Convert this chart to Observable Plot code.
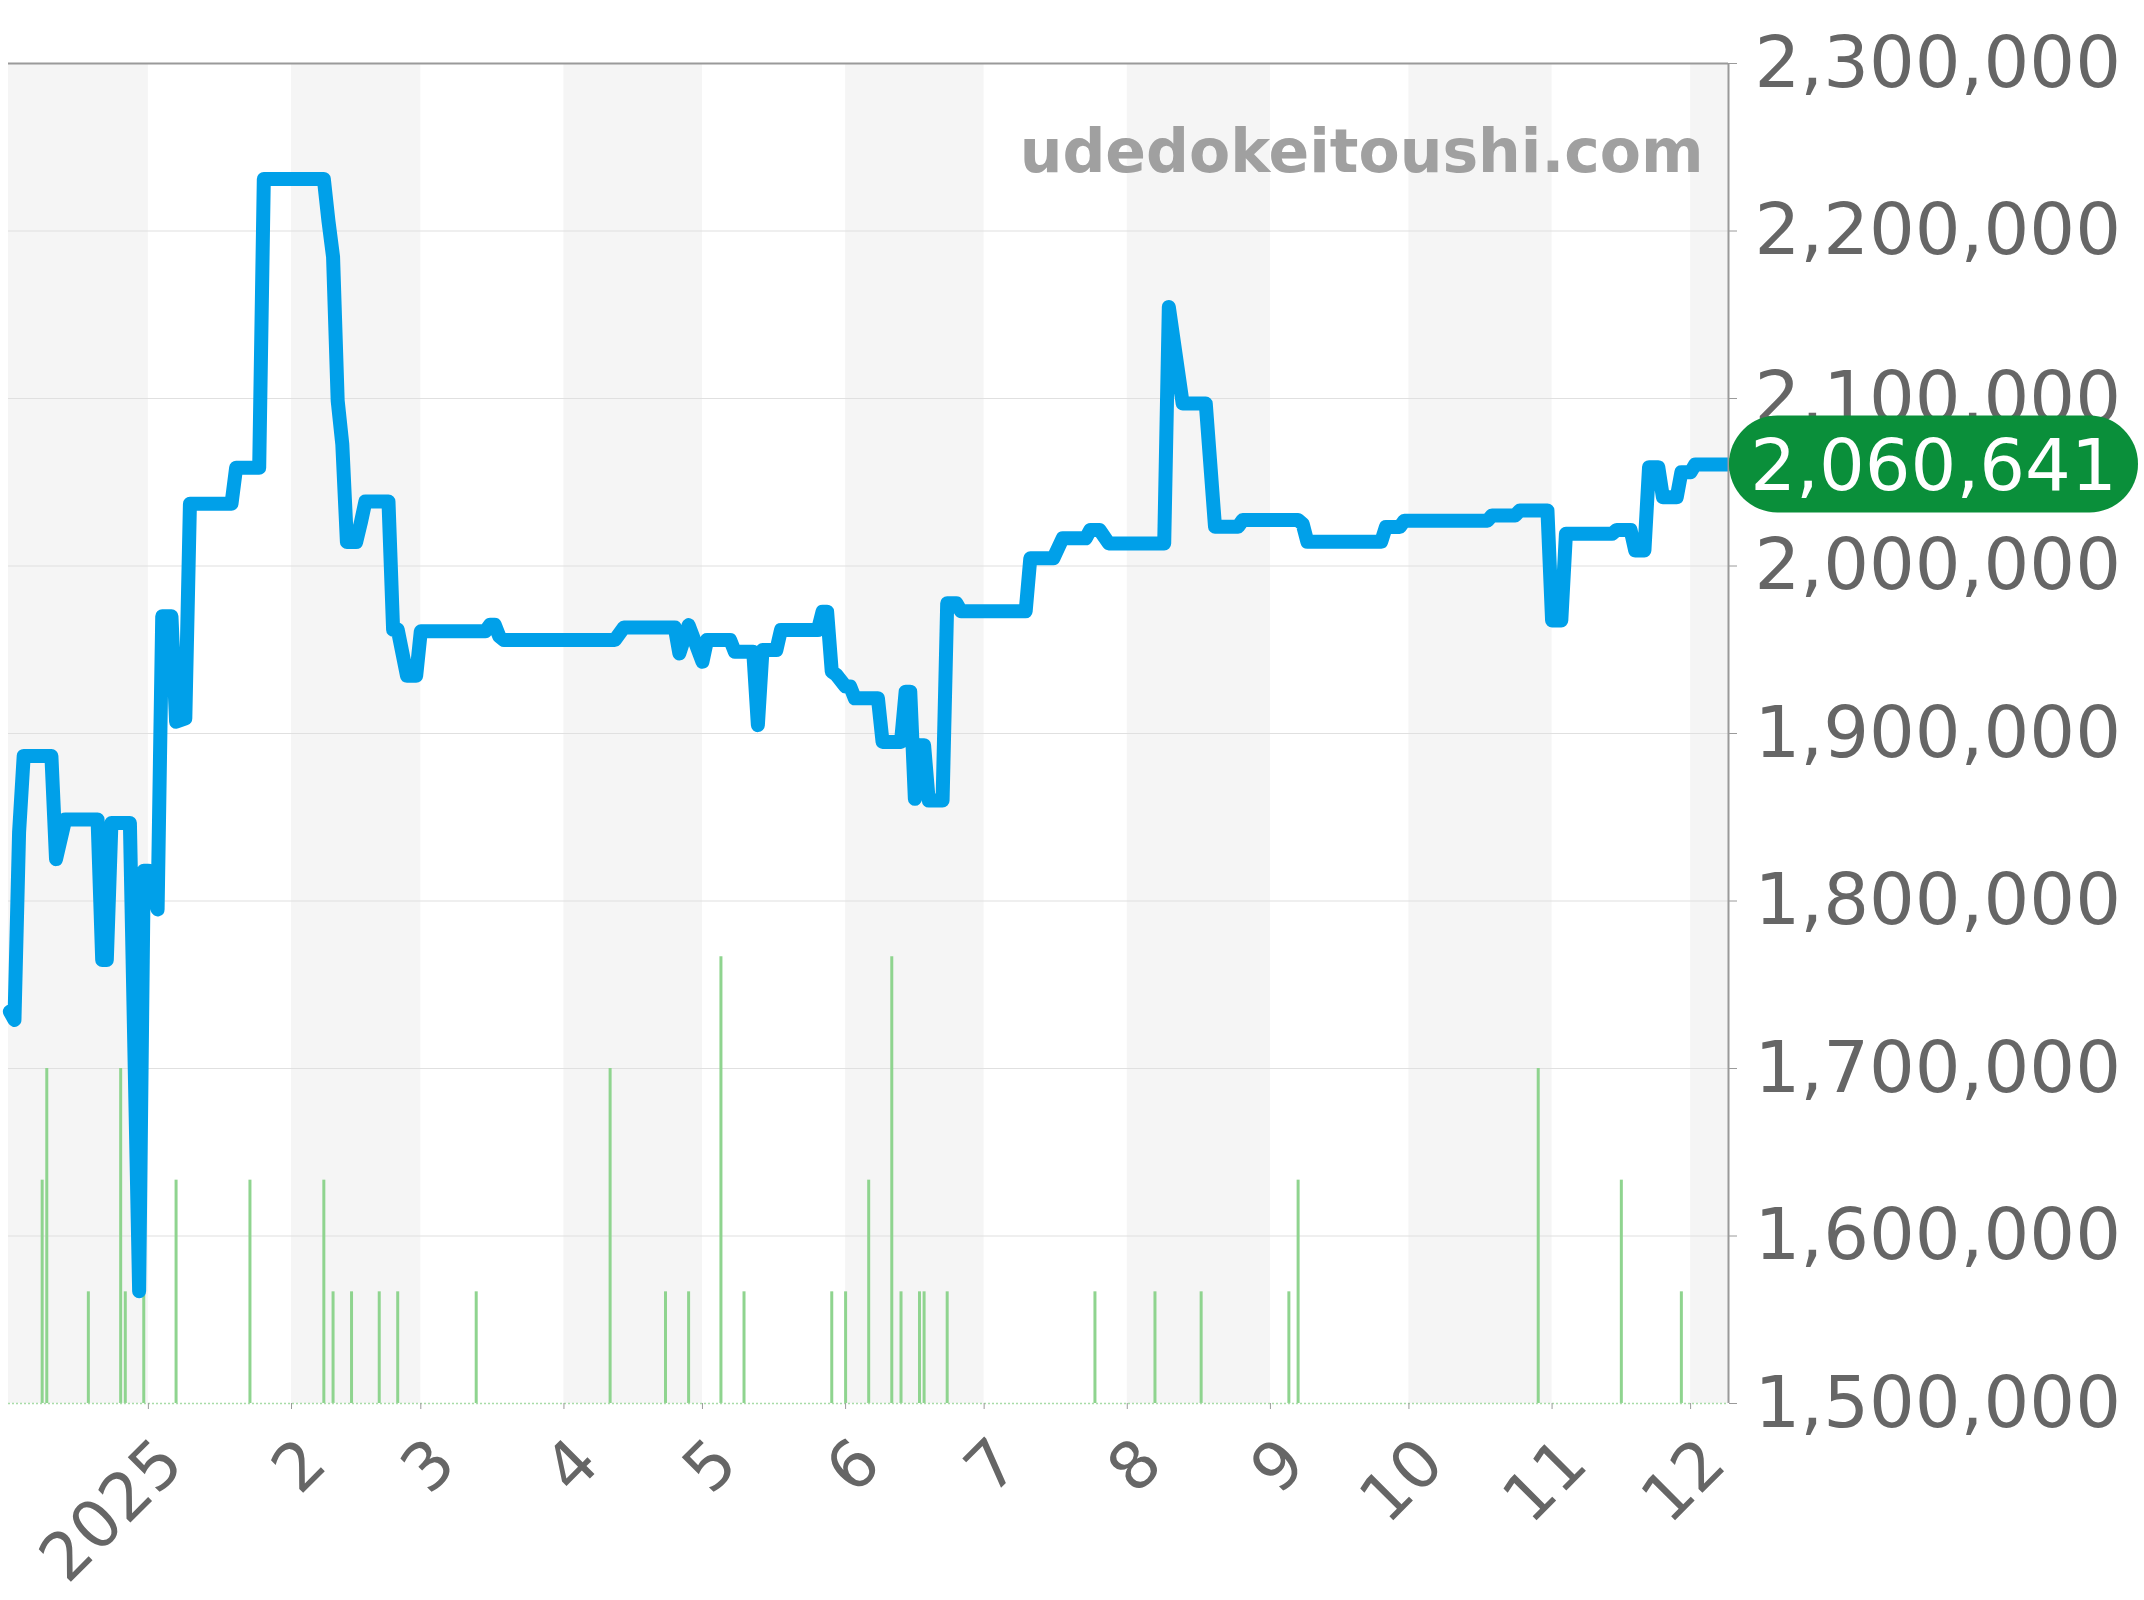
<!DOCTYPE html>
<html><head><meta charset="utf-8">
<script src="https://cdn.jsdelivr.net/npm/d3@7"></script>
<script src="https://cdn.jsdelivr.net/npm/@observablehq/plot@0.6"></script>
<style>
html,body{margin:0;padding:0;background:#fff;}
#chart svg{display:block;}
</style></head><body><div id="chart"></div>
<script>
// ---- data ----
const priceDates = [
 "2024-12-02","2024-12-03","2024-12-04","2024-12-05","2024-12-11","2024-12-12","2024-12-14","2024-12-21",
 "2024-12-22","2024-12-23","2024-12-24","2024-12-28","2024-12-30","2024-12-31","2025-01-01","2025-01-03",
 "2025-01-04","2025-01-06","2025-01-07","2025-01-09","2025-01-10","2025-01-19","2025-01-20","2025-01-25",
 "2025-01-26","2025-02-08","2025-02-09","2025-02-10","2025-02-11","2025-02-12","2025-02-13","2025-02-15",
 "2025-02-16","2025-02-17","2025-02-22","2025-02-23","2025-02-24","2025-02-26","2025-02-28","2025-03-01",
 "2025-03-15","2025-03-16","2025-03-17","2025-03-18","2025-03-19","2025-04-12","2025-04-14","2025-04-25",
 "2025-04-26","2025-04-28","2025-05-01","2025-05-02","2025-05-07","2025-05-08","2025-05-12","2025-05-13",
 "2025-05-14","2025-05-17","2025-05-18","2025-05-26","2025-05-27","2025-05-28","2025-05-29","2025-05-30",
 "2025-06-01","2025-06-02","2025-06-03","2025-06-08","2025-06-09","2025-06-13","2025-06-14","2025-06-15",
 "2025-06-16","2025-06-17","2025-06-18","2025-06-19","2025-06-22","2025-06-23","2025-06-25","2025-06-26",
 "2025-07-10","2025-07-11","2025-07-16","2025-07-18","2025-07-23","2025-07-24","2025-07-26","2025-07-28",
 "2025-08-09","2025-08-10","2025-08-13","2025-08-18","2025-08-20","2025-08-25","2025-08-26","2025-09-07",
 "2025-09-08","2025-09-09","2025-09-25","2025-09-26","2025-09-29","2025-09-30","2025-10-18","2025-10-19",
 "2025-10-24","2025-10-25","2025-10-31","2025-11-01","2025-11-03","2025-11-04","2025-11-14","2025-11-15",
 "2025-11-18","2025-11-19","2025-11-21","2025-11-22","2025-11-24","2025-11-25","2025-11-28","2025-11-29",
 "2025-12-01","2025-12-02","2025-12-09"
];
const prices = [
 1734000,1729000,1841000,1886600,1886600,1825000,1848700,1848700,
 1764800,1764800,1846600,1846600,1567000,1818000,1818000,1795000,
 1970000,1970000,1907000,1909000,2037100,2037100,2058600,2058600,
 2231000,2231000,2206000,2184500,2098700,2072700,2014300,2014300,
 2025700,2038500,2038500,1962000,1962000,1934500,1934500,1961000,
 1961000,1965000,1965000,1958000,1955800,1955800,1963300,1963300,
 1947800,1964700,1942800,1955800,1955800,1948800,1948800,1905000,
 1949800,1949800,1961800,1961800,1972700,1972700,1937000,1935000,
 1928000,1928000,1921000,1921000,1895000,1895000,1925000,1925000,
 1861000,1893000,1893000,1860000,1860000,1977700,1977700,1973000,
 1973000,2004600,2004600,2016500,2016500,2021500,2021500,2013500,
 2013500,2154700,2097000,2097000,2023500,2023500,2027400,2027400,
 2025000,2014500,2014500,2023300,2023300,2027000,2027000,2030200,
 2030200,2033100,2033100,1967500,1967500,2019200,2019200,2021500,
 2021500,2009300,2009300,2059000,2059000,2041100,2041100,2056000,
 2056000,2060641,2060641
];
const volumeDates = [
 "2024-12-09","2024-12-10","2024-12-19","2024-12-26","2024-12-27","2024-12-31","2025-01-07","2025-01-23",
 "2025-02-08","2025-02-10","2025-02-14","2025-02-20","2025-02-24","2025-03-13","2025-04-11","2025-04-23",
 "2025-04-28","2025-05-05","2025-05-10","2025-05-29","2025-06-01","2025-06-06","2025-06-11","2025-06-13",
 "2025-06-17","2025-06-18","2025-06-23","2025-07-25","2025-08-07","2025-08-17","2025-09-05","2025-09-07",
 "2025-10-29","2025-11-16","2025-11-29"
];
const volumeCounts = [
 2,3,1,3,1,1,2,2,
 2,1,1,1,1,1,3,1,
 1,4,1,1,1,2,4,1,
 1,1,1,1,1,1,1,2,
 3,2,1
];
const monthTickDates = ["2025-01-01","2025-02-01","2025-03-01","2025-04-01","2025-05-01","2025-06-01",
 "2025-07-01","2025-08-01","2025-09-01","2025-10-01","2025-11-01","2025-12-01"];
const monthTickLabels = ["2025","2","3","4","5","6","7","8","9","10","11","12"];
const shadeStarts = ["2024-12-01T17:00:00Z","2025-02-01","2025-04-01","2025-06-01","2025-08-01","2025-10-01","2025-12-01"];
const shadeEnds   = ["2025-01-01","2025-03-01","2025-05-01","2025-07-01","2025-09-01","2025-11-01","2025-12-09T05:00:00Z"];
const yTicks = [1500000,1600000,1700000,1800000,1900000,2000000,2100000,2200000,2300000];
const lastPrice = 2060641;
const siteName = "udedokeitoushi.com";
const xDomain = ["2024-12-01T17:00:00Z","2025-12-09T05:00:00Z"];
const volumeMax = 12; // volume units spanning the full plot height

// ---- tables built from the arrays ----
const price = priceDates.map((d,i)=>({date:new Date(d), price:prices[i]}));
const vol = volumeDates.map((d,i)=>({date:new Date(d), count:volumeCounts[i]}));
const months = monthTickDates.map((d,i)=>({date:new Date(d), label:monthTickLabels[i]}));
const shade = shadeStarts.map((d,i)=>({s:new Date(d), e:new Date(shadeEnds[i])}));
const x0 = new Date(xDomain[0]), x1 = new Date(xDomain[1]);
const yMin = yTicks[0], yMax = yTicks[yTicks.length-1];
const volUnit = (yMax - yMin) / volumeMax;
const fmt = d3.format(",");

const chart = Plot.plot({
  width: 2144, height: 1600,
  marginTop: 63, marginBottom: 197, marginLeft: 8, marginRight: 416,
  x: {type: "utc", domain: [x0, x1]},
  y: {domain: [yMin, yMax]},
  style: {fontFamily: "'DejaVu Sans', sans-serif", background: "white", overflow: "visible"},
  marks: [
    Plot.rect(shade, {x1: "s", x2: "e", fill: "#f5f5f5"}),
    Plot.ruleY(yTicks.slice(1, -1), {stroke: "#e0e0e0", strokeWidth: 1.2}),
    Plot.ruleX(vol, {x: "date", y1: yMin, y2: d => yMin + d.count * volUnit, stroke: "#8fd48f", strokeWidth: 3}),
    Plot.ruleY([yMin], {stroke: "#a8dca8", strokeWidth: 1.5, strokeDasharray: "2,2"}),
    Plot.line(price, {x: "date", y: "price", stroke: "#00a0e9", strokeWidth: 14, strokeLinejoin: "round", strokeLinecap: "round"}),
    Plot.ruleY([yMax], {stroke: "#9a9a9a", strokeWidth: 2}),
    Plot.ruleX([x1], {stroke: "#9a9a9a", strokeWidth: 2}),
    Plot.axisY({anchor: "right", ticks: yTicks, tickFormat: fmt, tickSize: 8, tickPadding: 18,
      fontSize: 72, stroke: "#9a9a9a", fill: "#666", label: null}),
    Plot.axisX({ticks: months.map(d=>d.date), tickFormat: () => "", tickSize: 6, stroke: "#9a9a9a", label: null}),
    Plot.text(months, {x: "date", text: "label", frameAnchor: "bottom", rotate: -45, textAnchor: "end",
      lineAnchor: "bottom", dx: 38, dy: 63, fontSize: 66, fill: "#666"}),
    Plot.text([siteName], {text: d => d, frameAnchor: "top-right", textAnchor: "end", lineAnchor: "bottom",
      dx: -25, dy: 108, fontSize: 60, fontWeight: "bold", fill: "#a0a0a0"})
  ]
});
document.getElementById("chart").appendChild(chart);

// ---- last-price badge, placed with the plot's own scales ----
function applyScale(name, v) {
  const s = chart.scale(name);
  if (s.apply) return s.apply(v);
  const f = (s.type === "utc" ? d3.scaleUtc() : d3.scaleLinear()).domain(s.domain).range(s.range);
  return f(v);
}
const bx = applyScale("x", x1) + 1;
const by = applyScale("y", lastPrice);
const g = d3.select(chart).append("g");
g.append("rect").attr("x", bx).attr("y", by - 48.5).attr("width", 409).attr("height", 97)
  .attr("rx", 48.5).attr("fill", "#0a8f3a");
g.append("text").attr("x", bx + 204.5).attr("y", by).attr("dy", "0.36em")
  .attr("text-anchor", "middle").attr("fill", "white").attr("font-size", 72)
  .attr("font-family", "'DejaVu Sans', sans-serif").text(fmt(lastPrice));
</script>
</body></html>
